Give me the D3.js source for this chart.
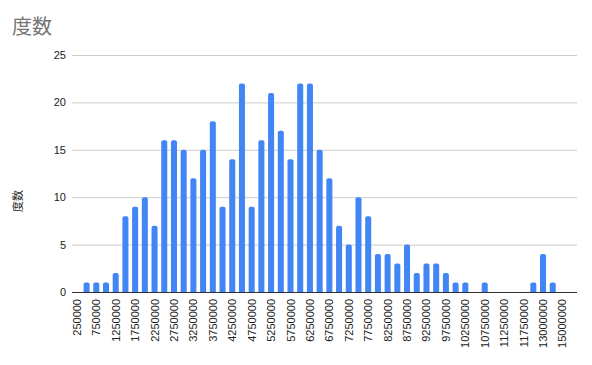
<!DOCTYPE html>
<html>
<head>
<meta charset="utf-8">
<script src="https://cdn.jsdelivr.net/npm/d3@7"></script>
<style>
  body { margin: 0; background: #fff; }
  svg { display: block; font-family: "Liberation Sans", Arial, "Noto Sans CJK JP", sans-serif; }
</style>
</head>
<body>
<svg id="chart" width="592" height="365"></svg>
<script>
// bins (every other one gets a label on the axis)
var categories = ["250000","500000","750000","1000000","1250000","1500000","1750000","2000000",
  "2250000","2500000","2750000","3000000","3250000","3500000","3750000","4000000","4250000",
  "4500000","4750000","5000000","5250000","5500000","5750000","6000000","6250000","6500000",
  "6750000","7000000","7250000","7500000","7750000","8000000","8250000","8500000","8750000",
  "9000000","9250000","9500000","9750000","10000000","10250000","10500000","10750000",
  "11000000","11250000","11500000","11750000","12000000","13000000","14000000","15000000","16000000"];
var counts = [0,1,1,1,2,8,9,10,7,16,16,15,12,15,18,9,14,22,9,16,21,17,14,22,22,15,
  12,7,5,10,8,4,4,3,5,2,3,3,2,1,1,0,1,0,0,0,0,1,4,1,0,0];
var yTicks = [0,5,10,15,20,25];
var titleText = "度数";
var yTitle = "度数";

var svg = d3.select("#chart");
var mLeft = 72, mRight = 577, mTop = 55, mBottom = 292;

var x = d3.scaleBand().domain(categories).range([mLeft, mRight]).paddingInner(0.38).paddingOuter(0.19);
var y = d3.scaleLinear().domain([0, 25]).range([mBottom, mTop]);

svg.append("text").attr("x", 12).attr("y", 34)
  .attr("font-size", 20).attr("fill", "#757575")
  .attr("font-family", "'Noto Sans CJK JP', sans-serif")
  .text(titleText);

// grid
svg.append("g").selectAll("line").data(yTicks.filter(function(d) { return d > 0; }))
  .join("line")
  .attr("x1", mLeft).attr("x2", mRight)
  .attr("y1", function(d) { return y(d) + 0.5; }).attr("y2", function(d) { return y(d) + 0.5; })
  .attr("stroke", "#cccccc");

var yAxis = svg.append("g").attr("transform", "translate(" + mLeft + ",0)")
  .call(d3.axisLeft(y).tickValues(yTicks).tickSize(0).tickPadding(6));
yAxis.select(".domain").remove();
yAxis.selectAll("text").attr("font-size", 11).attr("fill", "#222")
  .attr("font-family", "'Liberation Sans', Arial, sans-serif");

svg.append("text")
  .attr("transform", "translate(22,201) rotate(-90)")
  .attr("text-anchor", "middle").attr("font-size", 11).attr("fill", "#222")
  .attr("font-family", "'Noto Sans CJK JP', sans-serif")
  .text(yTitle);

// bars with rounded tops
var bw = x.bandwidth(), r = 2;
svg.append("g").selectAll("path").data(counts.map(function(v, i) { return {c: categories[i], v: v}; })
  .filter(function(d) { return d.v > 0; }))
  .join("path")
  .attr("fill", "#4285f4")
  .attr("d", function(d) {
    var x0 = x(d.c), y0 = y(d.v), y1 = y(0);
    return "M" + x0 + "," + y1 + "V" + (y0 + r) + "Q" + x0 + "," + y0 + " " + (x0 + r) + "," + y0 +
      "H" + (x0 + bw - r) + "Q" + (x0 + bw) + "," + y0 + " " + (x0 + bw) + "," + (y0 + r) + "V" + y1 + "Z";
  });

// baseline
svg.append("line").attr("x1", mLeft).attr("x2", mRight)
  .attr("y1", mBottom + 0.5).attr("y2", mBottom + 0.5).attr("stroke", "#333");

var xAxis = svg.append("g").attr("transform", "translate(0," + (mBottom + 1) + ")")
  .call(d3.axisBottom(x).tickValues(categories.filter(function(d, i) { return i % 2 === 0 && i < 51; }))
    .tickSize(0).tickPadding(0));
xAxis.select(".domain").remove();
xAxis.selectAll("text")
  .attr("font-size", 11).attr("fill", "#222")
  .attr("font-family", "'Liberation Sans', Arial, sans-serif")
  .attr("text-anchor", "end")
  .attr("dy", null)
  .attr("transform", "translate(4,6) rotate(-90)");
</script>
</body>
</html>
